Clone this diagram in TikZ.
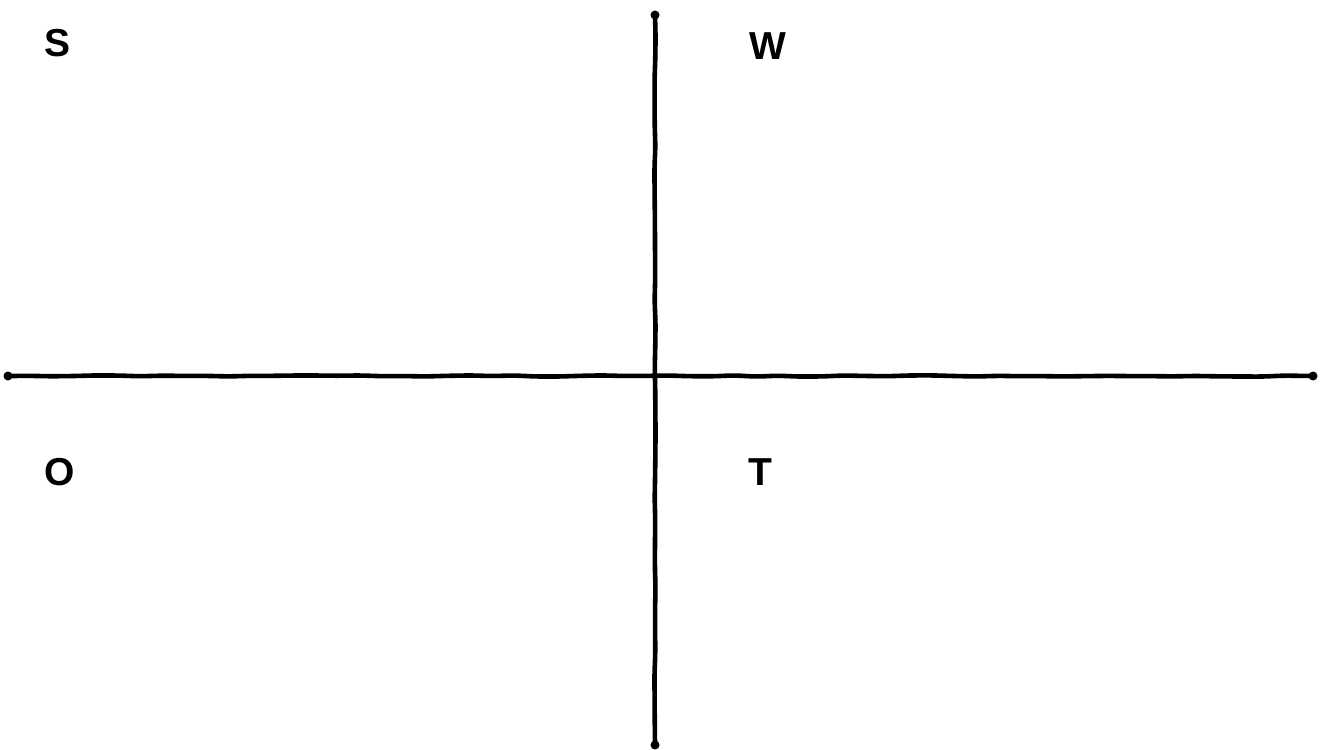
\documentclass[tikz,border=0pt]{standalone}
\usepackage{fontspec}
\setmainfont{Liberation Sans}
\usetikzlibrary{decorations.pathmorphing}
\begin{document}
\begin{tikzpicture}[x=1pt,y=-1pt,
  axisline/.style={line width=4.6pt, line cap=round, black,
    decorate, decoration={random steps, segment length=22pt, amplitude=0.6pt}, rounded corners=6pt},
  enddot/.style={circle, fill=black, inner sep=0pt, minimum size=9pt},
  quadlabel/.style={inner sep=0pt, font=\bfseries\fontsize{39}{39}\selectfont}]
\useasboundingbox (0,0) rectangle (1321,749);
\pgfmathsetseed{7}
\node[enddot] (l) at (8,376) {};
\node[enddot] (r) at (1313,376) {};
\node[enddot] (t) at (655,15) {};
\node[enddot] (b) at (655,745) {};
\draw[axisline] (l.center) -- (r.center);
\draw[axisline] (t.center) -- (b.center);
\node[quadlabel] (S) at (58,43) {S};
\node[quadlabel] (W) at (768,46) {W};
\node[quadlabel] (O) at (60,472) {O};
\node[quadlabel] (T) at (760,472) {T};
\end{tikzpicture}
\end{document}
